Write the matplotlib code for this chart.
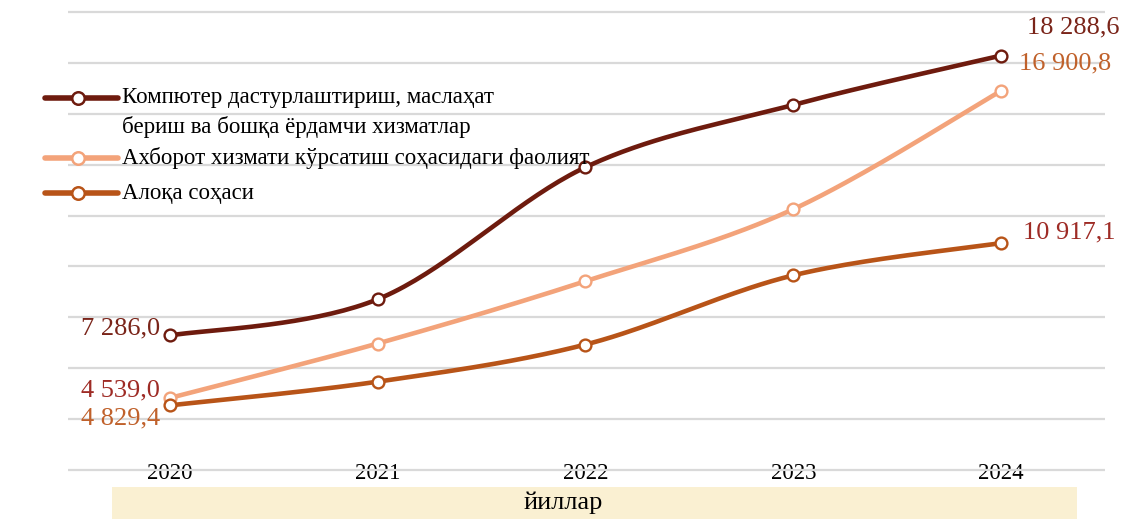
import numpy as np
import matplotlib
matplotlib.use("Agg")
import matplotlib.pyplot as plt
from matplotlib.lines import Line2D
from matplotlib.patches import Rectangle

plt.rcParams['font.family'] = ['Liberation Serif', 'DejaVu Serif']

years = ['2020', '2021', '2022', '2023', '2024']
computer = [7286.0, 8710, 13900, 16350, 18288.6]
info = [4829.4, 6970, 9420, 12250, 16900.8]
comm = [4539.0, 5470, 6930, 9650, 10917.1]

series_names = [
    'Компютер дастурлаштириш, маслаҳат\nбериш ва бошқа ёрдамчи хизматлар',
    'Ахборот хизмати кўрсатиш соҳасидаги фаолият',
    'Алоқа соҳаси',
]
line_colors = ['#6E1B0E', '#F3A37A', '#B85418']

# end labels: (text, colour, series index, point index, offset px, align)
end_labels = [
    ('7 286,0', '#7A2419', 0, 0, (-10, 7), 'right'),
    ('4 539,0', '#9E2B25', 2, 0, (-10, 15), 'right'),
    ('4 829,4', '#C0612B', 1, 0, (-10, -20), 'right'),
    ('18 288,6', '#7A2419', 0, 4, (26, 28), 'left'),
    ('16 900,8', '#C0612B', 1, 4, (18, 27), 'left'),
    ('10 917,1', '#9E2B25', 2, 4, (22, 11), 'left'),
]


def smooth(xs, ys, n=40):
    # Catmull-Rom style bezier, like spreadsheet "smoothed line"
    xs = np.asarray(xs, float)
    ys = np.asarray(ys, float)
    px = np.concatenate([[xs[0]], xs, [xs[-1]]])
    py = np.concatenate([[ys[0]], ys, [ys[-1]]])
    out_x, out_y = [], []
    t = np.linspace(0, 1, n)
    for i in range(1, len(px) - 2):
        p0 = np.array([px[i], py[i]])
        p3 = np.array([px[i + 1], py[i + 1]])
        c1 = p0 + (np.array([px[i + 1], py[i + 1]]) - np.array([px[i - 1], py[i - 1]])) / 6
        c2 = p3 - (np.array([px[i + 2], py[i + 2]]) - np.array([px[i], py[i]])) / 6
        b = ((1 - t) ** 3)[:, None] * p0 + (3 * (1 - t) ** 2 * t)[:, None] * c1 \
            + (3 * (1 - t) * t ** 2)[:, None] * c2 + (t ** 3)[:, None] * p3
        out_x.extend(b[:, 0])
        out_y.extend(b[:, 1])
    return out_x, out_y


W, H = 1133, 519
fig = plt.figure(figsize=(W / 100, H / 100), dpi=100)
ax = fig.add_axes([68 / W, (519 - 472.5) / H, (1105 - 68) / W, (472.5 - 9.5) / H])

ax.set_xlim(-0.49, 4.5)
ax.set_ylim(1900, 20100)
ax.set_yticks(np.arange(2000, 20001, 2000))
ax.yaxis.grid(True, color='#D9D9D9', linewidth=1.6)
ax.set_axisbelow(True)
for s in ax.spines.values():
    s.set_visible(False)
ax.tick_params(axis='y', left=False, labelleft=False)
ax.set_xticks(range(len(years)))
ax.set_xticklabels(years, fontsize=16.5)
ax.tick_params(axis='x', bottom=False, pad=-10)

xs = np.arange(len(years))
all_series = [computer, info, comm]
for vals, col in zip(all_series, line_colors):
    sx, sy = smooth(xs, vals)
    ax.plot(sx, sy, color=col, linewidth=3.3, solid_capstyle='round', zorder=3)
    ax.plot(xs, vals, linestyle='none', marker='o', markersize=8.5,
            markerfacecolor='white', markeredgecolor=col, markeredgewidth=1.7, zorder=4)

for txt, col, si, pi, off, ha in end_labels:
    ax.annotate(txt, (xs[pi], all_series[si][pi]), xytext=off, textcoords='offset pixels',
                ha=ha, va='center', color=col, fontsize=19, zorder=5)

# legend drawn by hand so the marker sits on the first text line
leg_rows = [98, 158, 193]
for y, col, name in zip(leg_rows, line_colors, series_names):
    fy = 1 - y / H
    fig.add_artist(Line2D([45 / W, 118 / W], [fy, fy], color=col, linewidth=4,
                          solid_capstyle='round'))
    fig.add_artist(Line2D([78 / W], [fy], marker='o', markersize=9, markerfacecolor='white',
                          markeredgecolor=col, markeredgewidth=1.8, linestyle='none'))
    lines = name.split('\n')
    fig.text(122 / W, fy, lines[0], ha='left', va='center', fontsize=16.5)
    if len(lines) > 1:
        fig.text(122 / W, 1 - 127 / H, lines[1], ha='left', va='center', fontsize=16.5)

# axis title band
fig.add_artist(Rectangle((112 / W, 0), (1077 - 112) / W, (519 - 487) / H,
                         facecolor='#FAF0D2', edgecolor='none', transform=fig.transFigure))
fig.text(563 / W, 1 - 503 / H, 'йиллар', ha='center', va='center', fontsize=19)

fig.savefig('out.png', dpi=100)
